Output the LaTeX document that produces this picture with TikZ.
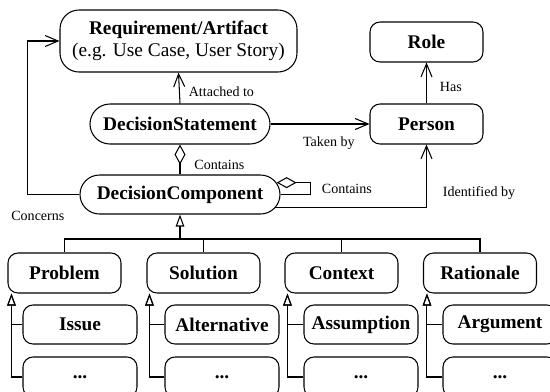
\documentclass[tikz,border=0pt]{standalone}
\usepackage{fontspec}
\setmainfont{Liberation Serif}
\usetikzlibrary{calc,positioning,arrows.meta,shapes.misc}

\begin{document}
\begin{tikzpicture}[x=.2mm,y=-.2mm,line width=.6pt,
  box/.style={draw,rounded corners=2mm,minimum width=22.6mm,minimum height=8mm,inner sep=0,font=\fontsize{11}{13}\selectfont\bfseries},
  subbox/.style={box,minimum width=22.8mm,minimum height=7.8mm},
  pill/.style={draw,rounded rectangle,minimum height=8mm,inner sep=0,font=\fontsize{11}{13}\selectfont\bfseries},
  lbl/.style={font=\fontsize{8}{9.6}\selectfont},
  assoc/.style={-{Straight Barb[length=2.6mm,width=2.2mm]}},
  inh/.style={-{Triangle[open,length=2.4mm,width=1.7mm]}},
  agg/.style={{Diamond[open,length=4mm,width=2.2mm]}-}]

\useasboundingbox (0,0) rectangle (550,391);
\clip (0,0) rectangle (550,391);

% Nodes
\node[draw,rounded corners=3.8mm,minimum width=47.4mm,minimum height=12.4mm,align=center,font=\fontsize{11}{12.5}\selectfont] (req) at (178.5,41) {\textbf{Requirement/Artifact}\\(e.g. Use Case, User Story)};
\node[pill,minimum width=36mm] (ds) at (180,124) {DecisionStatement};
\node[pill,minimum width=40mm,minimum height=7.8mm] (dc) at (180,194.5) {DecisionComponent};
\node[box] (role) at (426.5,42) {Role};
\node[box] (person) at (426.5,124) {Person};

% Component kinds
\node[box] (problem) at (64.5,273) {Problem};
\node[box] (solution) at (203.5,273) {Solution};
\node[box] (context) at (341.5,273) {Context};
\node[box] (rationale) at (480,273) {Rationale};

% Subkinds
\node[subbox] (issue) at (80,324.5) {Issue};
\node[subbox,minimum height=8mm] (etc1) at (80,377) {...};
\node[subbox] (alternative) at (222,324.5) {Alternative};
\node[subbox,minimum height=8mm] (etc2) at (222,377) {...};
\node[subbox] (assumption) at (361,324.5) {Assumption};
\node[subbox,minimum height=8mm] (etc3) at (361,377) {...};
\node[subbox] (argument) at (500,324.5) {Argument};
\node[subbox,minimum height=8mm] (etc4) at (500,377) {...};

% Associations
\draw[assoc] (ds.north) -- node[lbl,right=.6mm,pos=.375] (attached) {Attached to} (req.south);
\draw[assoc] (ds.east) -- node[lbl,below=1.2mm,pos=.59] (taken) {Taken by} (person.west);
\draw[assoc] (person.north) -- node[lbl,right=1.4mm,pos=.4] (has) {Has} (role.south);
\draw[assoc] (dc.-8) -| node[lbl,right=2mm,pos=.62] (identified) {Identified by} (person.south);
\draw[assoc] (dc.west) -- node[lbl,below=2mm,pos=.8] (concerns) {Concerns} ++(-52,0) |- (req.west);

% Aggregations
\draw[agg] (ds.south) -- node[lbl,right=1.6mm,pos=.68] (contains) {Contains} (dc.north);
\draw[agg] (dc.7) -- ($(dc.east |- dc.7)+(30,0)$) |- node[lbl,right=1mm,pos=.25] (selfcontains) {Contains} (dc.east);

% Generalization of the component kinds
\coordinate (bus) at (180,239);
\draw[inh] (bus) -- (dc.south);
\draw (problem.north) |- (bus);
\draw (solution.north) |- (bus);
\draw (context.north) |- (bus);
\draw (rationale.north) |- (bus);

% Generalization of the subkinds
\draw[inh] (issue.west) -| ($(problem.south west)+(4,0)$);
\draw[inh] (etc1.west) -| ($(problem.south west)+(4,0)$);
\draw[inh] (alternative.west) -| ($(solution.south west)+(3,0)$);
\draw[inh] (etc2.west) -| ($(solution.south west)+(3,0)$);
\draw[inh] (assumption.west) -| ($(context.south west)+(3,0)$);
\draw[inh] (etc3.west) -| ($(context.south west)+(3,0)$);
\draw[inh] (argument.west) -| ($(rationale.south west)+(4,0)$);
\draw[inh] (etc4.west) -| ($(rationale.south west)+(4,0)$);

\end{tikzpicture}
\end{document}
